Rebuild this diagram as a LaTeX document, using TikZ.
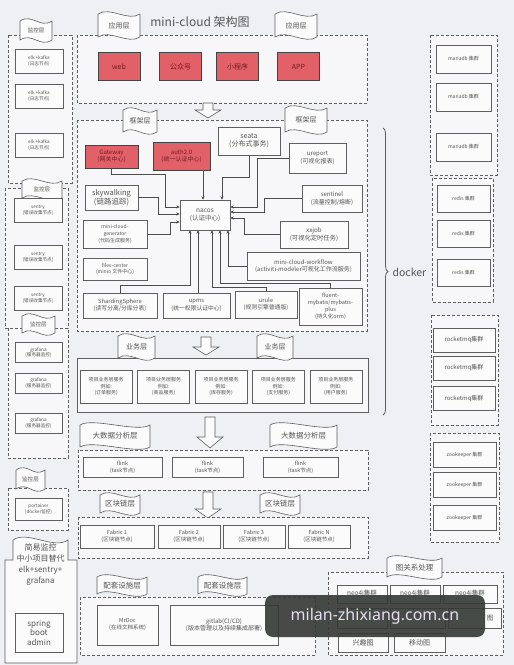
\documentclass[tikz,border=0pt]{standalone}
\usepackage{fontspec}
\setmainfont{Noto Sans CJK SC}
\newfontfamily\wmfont{Noto Sans}
\usepackage{tikz}
\usetikzlibrary{arrows.meta, calc, decorations.pathreplacing}

\definecolor{bgcol}{RGB}{239,240,244}
\definecolor{zonecol}{RGB}{247,246,248}
\definecolor{boxcol}{RGB}{251,251,251}
\definecolor{linecol}{RGB}{95,95,95}
\definecolor{txtcol}{RGB}{85,85,85}
\definecolor{appred}{RGB}{226,96,104}
\definecolor{appdark}{RGB}{115,28,34}
\definecolor{wmbg}{RGB}{52,56,52}
\definecolor{wmtxt}{RGB}{232,222,240}

% wavy layer label: [style]{name}{x1}{y1}{x2}{y2}{text}
\newcommand{\layertag}[7][]{%
  \draw[tagline] (#3,#4) .. controls +(12,-8) and +(-12,8) .. (#5,#4)
    -- (#5,#6) .. controls +(-12,8) and +(12,-8) .. (#3,#6) -- cycle;
  \node[tagtext,#1] (#2) at ({(#3+#5)/2},{(#4+#6)/2}) {#7};
}
% hollow down arrow: {x}{ytop}{ybottom}{head}
\newcommand{\flowarrow}[4]{%
  \draw[flowarr] (#1-5,#2) -- (#1+5,#2) -- (#1+5,#3-#4) -- (#1+13,#3-#4)
    -- (#1,#3) -- (#1-13,#3-#4) -- (#1-5,#3-#4) -- cycle;
}

\begin{document}
\begin{tikzpicture}[x=1pt, y=-1pt,
  zone/.style={draw=linecol, fill=zonecol, line width=0.8pt, dash pattern=on 3pt off 2pt},
  solidzone/.style={draw=linecol, fill=zonecol, line width=0.7pt},
  box/.style={draw=linecol, fill=boxcol, line width=0.6pt, align=center, inner sep=1pt,
    text=txtcol, font=\fontsize{4.6}{5.8}\selectfont},
  fwbox/.style={box, font=\fontsize{6.3}{7.6}\selectfont},
  redbox/.style={box, fill=appred, draw=linecol!70!black, text=appdark, font=\fontsize{7}{8.4}\selectfont},
  tagline/.style={draw=linecol, fill=boxcol, line width=0.6pt},
  tagtext/.style={text=txtcol, font=\fontsize{7}{8}\selectfont, inner sep=0pt},
  conn/.style={draw=black!70, line width=0.6pt, -{Stealth[length=3.2pt, width=3pt]}},
  flowarr/.style={draw=linecol, fill=boxcol, line width=0.6pt},
]
\useasboundingbox (0,0) rectangle (514,665);
\fill[bgcol] (0,0) rectangle (514,665);

% monitoring column
\draw[zone] (8,35) rectangle (72,183);
\draw[zone] (5,188) rectangle (68,328);
\draw[zone] (8,328) rectangle (68,458);
\draw[zone] (8,488) rectangle (68,530);
\layertag[font=\fontsize{5.5}{6}\selectfont]{tagmona}{20}{21}{52}{40}{监控层}
\layertag[font=\fontsize{5.5}{6}\selectfont]{tagmonb}{22}{181}{62}{198}{监控层}
\layertag[font=\fontsize{5.5}{6}\selectfont]{tagmonc}{22}{316}{55}{333}{监控层}
\layertag[font=\fontsize{5.5}{6}\selectfont]{tagmond}{16}{470}{45}{489}{监控层}
\foreach \y/\n in {61/elka, 96/elkb, 145/elkc}
  \node[box, minimum width=48, minimum height=24] (\n) at (39,\y) {elk +kafka\\(日志节点)};
\foreach \y/\n in {210/sentrya, 257.5/sentryb, 298.5/sentryc}
  \node[box, minimum width=48, minimum height=24] (\n) at (38,\y) {sentry\\(错误收集节点)};
\foreach \y/\n in {352.5/grafanaa, 383/grafanab, 423/grafanac}
  \node[box, minimum width=47, minimum height=20] (\n) at (38.5,\y) {grafana\\(服务器监控)};
\node[box, minimum width=47, minimum height=22] (portainer) at (38.5,509) {portainer\\(docker监控)};
\draw[tagline] (13,540) .. controls +(14,-10) and +(-14,10) .. (68,540) -- (68,560) -- (77,560)
  -- (77,663) -- (5,663) -- (5,560) -- (13,560) -- cycle;
\node[text=txtcol, font=\fontsize{8}{11}\selectfont, align=center] (simplemon) at (40.5,565)
  {简易监控\\中小项目替代\\elk+sentry+\\grafana};
\node[box, font=\fontsize{8}{9.5}\selectfont, minimum width=48, minimum height=39] (sba) at (39,632.5)
  {spring\\boot\\admin};

% application layer
\draw[zone] (77,35) rectangle (367,103);
\layertag{tagappa}{98}{14}{140}{37}{应用层}
\layertag{tagappb}{275}{14}{317}{37}{应用层}
\node[text=txtcol, font=\fontsize{12}{14}\selectfont] (title) at (200,22) {mini-cloud 架构图};
\foreach \x/\n/\t in {119/web/web, 180.5/gzh/公众号, 237.5/mini/小程序, 298.5/app/APP}
  \node[redbox, minimum width=42, minimum height=28] (\n) at (\x,66.5) {\t};
\flowarrow{208}{103}{118}{8}

% framework layer
\draw[zone] (77,120) rectangle (367,331);
\layertag{tagfwa}{123}{110}{157}{132}{框架层}
\layertag{tagfwb}{285}{108}{327}{132}{框架层}
\node[redbox, font=\fontsize{6}{7.4}\selectfont, minimum width=53, minimum height=23] (gateway) at (111.5,156.5) {Gateway\\(网关中心)};
\node[redbox, font=\fontsize{6}{7.4}\selectfont, minimum width=57, minimum height=28] (auth) at (181.5,156) {auth2.0\\(统一认证中心)};
\node[fwbox, font=\fontsize{7}{8.4}\selectfont, minimum width=62, minimum height=28] (seata) at (249,141) {seata\\(分布式事务)};
\node[fwbox, font=\fontsize{6}{7.4}\selectfont, minimum width=57, minimum height=30] (ureport) at (317.5,158) {ureport\\(可视化报表)};
\node[fwbox, font=\fontsize{7.5}{9}\selectfont, minimum width=53, minimum height=25] (sky) at (111.5,197.5) {skywalking\\(链路追踪)};
\node[fwbox, font=\fontsize{6}{7.4}\selectfont, minimum width=60, minimum height=27] (sentinel) at (332,198.5) {sentinel\\(流量控制/熔断)};
\node[fwbox, font=\fontsize{6.5}{8}\selectfont, minimum width=50, minimum height=30] (nacos) at (205,215) {nacos\\(认证中心)};
\node[fwbox, font=\fontsize{5}{6.6}\selectfont, minimum width=64, minimum height=28] (gen) at (115,234) {mini-cloud-\\generator\\(代码生成服务)};
\node[fwbox, font=\fontsize{6.3}{7.6}\selectfont, minimum width=68, minimum height=27] (xxjob) at (314,234.5) {xxjob\\(可视化定时任务)};
\node[fwbox, font=\fontsize{5}{6.4}\selectfont, minimum width=64, minimum height=22] (files) at (115,269) {files-center\\(minio 文件中心)};
\node[fwbox, font=\fontsize{6}{7.4}\selectfont, minimum width=113, minimum height=28] (workflow) at (303.5,266) {mini-cloud-workflow\\(activiti-modeler可视化工作流服务)};
\node[fwbox, font=\fontsize{5.8}{7.2}\selectfont, minimum width=74, minimum height=25] (sharding) at (120,305.5) {ShardingSphere\\(读写分离/分库分表)};
\node[fwbox, font=\fontsize{5.8}{7.2}\selectfont, minimum width=67, minimum height=25] (upms) at (196.5,305.5) {upms\\(统一权限认证中心)};
\node[fwbox, font=\fontsize{5.8}{7.2}\selectfont, minimum width=62, minimum height=27] (urule) at (266,304.5) {urule\\(规则引擎普通版)};
\node[fwbox, font=\fontsize{5.5}{6.8}\selectfont, minimum width=63, minimum height=37] (fluent) at (330.5,306.5) {fluent-\\mybatis/mybatis-\\plus\\(持久化orm)};

\coordinate (nt1) at ($(nacos.north)+(-2,0)$);
\coordinate (nt2) at ($(nacos.north)+(17,0)$);
\coordinate (nl1) at ($(nacos.west)+(0,-8)$);
\coordinate (nl2) at ($(nacos.west)+(0,-1)$);
\coordinate (nl3) at ($(nacos.west)+(0,7)$);
\coordinate (nr1) at ($(nacos.east)+(0,-8)$);
\coordinate (nr2) at ($(nacos.east)+(0,-3)$);
\coordinate (nr3) at ($(nacos.east)+(0,3)$);
\coordinate (nb1) at ($(nacos.south)+(-15,0)$);
\coordinate (nb2) at ($(nacos.south)+(-7,0)$);
\coordinate (nb3) at ($(nacos.south)+(7,0)$);
\coordinate (nb4) at ($(nacos.south)+(15,0)$);
\coordinate (nb5) at ($(nacos.south)+(23,0)$);
\draw[conn] (gateway.south) |- (165,174) |- (nl1);
\draw[conn] (sky.east) -- ++(20,0) |- (nl2);
\draw[conn] (gen.east) -- ++(23,0) |- (nl3);
\draw[conn] (auth.south -| nt1) -- (nt1);
\draw[conn] (seata.south) |- ($(nt2)+(0,-22)$) -- (nt2);
\draw[conn] (ureport.west) -- ++(-31,0) |- (nr1);
\draw[conn] (sentinel.west) -- ++(-37,0) |- (nr2);
\draw[conn] (xxjob.west) -- ++(-35,0) |- (nr3);
\draw[conn] (workflow.west) -| (nb5);
\draw[conn] (fluent.north) |- ($(nb4)+(0,53)$) -- (nb4);
\draw[conn] (urule.north) |- ($(nb3)+(0,57)$) -- (nb3);
\draw[conn] (sharding.north) |- ($(nb1)+(0,55)$) -- (nb1);
\draw[conn] (upms.north -| nb2) -- (nb2);

% docker brace
\draw[linecol, line width=0.8pt, decorate, decoration={brace, amplitude=5pt}] (383,128) -- (383,415);
\node[text=txtcol, font=\fontsize{10.5}{12}\selectfont, anchor=west] (dockerlbl) at (389,272) {docker};

% business layer
\flowarrow{206}{337}{355}{8}
\draw[solidzone] (77,358) rectangle (368,412);
\layertag{tagbiza}{118}{336}{155}{358}{业务层}
\layertag{tagbizb}{257}{336}{293}{358}{业务层}
\foreach \i/\s in {1/订单服务, 2/商品服务, 3/库存服务, 4/支付服务, 5/用户服务}
  \node[box, font=\fontsize{5}{6.5}\selectfont, minimum width=52, minimum height=33] (biz\i) at ({106.2+(\i-1)*57.4},386.5)
    {项目业务层服务\\例如:\\(\s)};

% big data layer
\flowarrow{210}{417}{448}{11}
\draw[zone] (78,450) rectangle (368,490);
\layertag[font=\fontsize{7.5}{8}\selectfont]{tagbda}{80}{425}{150}{447}{大数据分析层}
\layertag[font=\fontsize{7.5}{8}\selectfont]{tagbdb}{270}{425}{337}{447}{大数据分析层}
\foreach \x/\w/\n in {122.5/79/flinka, 207.5/71/flinkb, 300.5/75/flinkc}
  \node[box, font=\fontsize{5.5}{7}\selectfont, minimum width=\w, minimum height=20] (\n) at (\x,467) {flink\\(task节点)};

% blockchain layer
\flowarrow{208}{492}{518}{9}
\draw[zone] (78,517) rectangle (368,558);
\layertag[font=\fontsize{7.5}{8}\selectfont]{tagbca}{100}{495}{140}{513}{区块链层}
\layertag[font=\fontsize{7.5}{8}\selectfont]{tagbcb}{260}{495}{300}{513}{区块链层}
\foreach \x/\w/\n/\t in {117/74/fabrica/1, 189/62/fabricb/2, 254/62/fabricc/3, 319/62/fabricd/N}
  \node[box, font=\fontsize{5.5}{7}\selectfont, minimum width=\w, minimum height=23] (\n) at (\x,536.5) {Fabric \t\\(区块链节点)};

% supporting facilities
\draw[zone] (80,597) rectangle (315,655);
\layertag[font=\fontsize{7.5}{8}\selectfont]{tagsupa}{97}{577}{147}{594}{配套设施层}
\layertag[font=\fontsize{7.5}{8}\selectfont]{tagsupb}{198}{577}{247}{594}{配套设施层}
\node[box, font=\fontsize{5.5}{7}\selectfont, minimum width=61, minimum height=40] (mrdoc) at (127.5,625) {MrDoc\\(在线文档系统)};
\node[box, font=\fontsize{6}{7.5}\selectfont, minimum width=108, minimum height=40] (gitlab) at (224,625) {gitlab(CI/CD)\\(版本管理以及持续集成部署)};

% graph processing
\draw[zone] (328,572) rectangle (503,655);
\layertag[font=\fontsize{7.5}{8}\selectfont]{taggraph}{387}{558}{442}{577}{图关系处理}
\foreach \x/\w/\n in {362/50/neoa, 415/50/neob, 470/54/neoc}
  \node[box, font=\fontsize{6.5}{8}\selectfont, minimum width=\w, minimum height=18] (\n) at (\x,594) {neo4j集群};
\node[box, minimum width=50, minimum height=20] (grapha) at (362,618) {};
\node[box, minimum width=55, minimum height=20] (graphb) at (417.5,618) {};
\node[box, minimum width=53, minimum height=20] (graphc) at (474.5,618) {};
\node[text=txtcol, font=\fontsize{6.5}{8}\selectfont] (graphclbl) at (490,618) {图};
\node[box, font=\fontsize{7}{8}\selectfont, minimum width=50, minimum height=19] (interest) at (363,642.5) {兴趣图};
\node[box, font=\fontsize{7}{8}\selectfont, minimum width=51, minimum height=19] (mobile) at (419.5,642.5) {移动图};

% storage column
\draw[zone] (430,35) rectangle (497,175);
\foreach \y/\n in {59/mariaa, 97/mariab, 147/mariac}
  \node[box, font=\fontsize{5}{6}\selectfont, minimum width=55, minimum height=28] (\n) at (463.5,\y) {mariadb 集群};
\draw[zone] (432,178) rectangle (493,302);
\foreach \y/\n in {198.5/redisa, 234/redisb, 272.5/redisc}
  \node[box, font=\fontsize{5}{6}\selectfont, minimum width=53, minimum height=27] (\n) at (463.5,\y) {redis 集群};
\draw[zone] (431,315) rectangle (498,425);
\foreach \y/\n in {340/rocketa, 368/rocketb, 398.5/rocketc}
  \node[box, font=\fontsize{6}{7}\selectfont, minimum width=62, minimum height=24] (\n) at (464,\y) {rocketmq集群};
\draw[zone] (430,433) rectangle (499,542);
\foreach \y/\n in {454.5/zooa, 485/zoob, 518/zooc}
  \node[box, font=\fontsize{5}{6}\selectfont, minimum width=63, minimum height=25] (\n) at (464.5,\y) {zookeeper 集群};

% watermark
\node[fill=wmbg, fill opacity=0.9, text opacity=1, text=wmtxt, rounded corners=8pt,
  minimum width=220, minimum height=42, font=\wmfont\fontsize{16}{18}\selectfont] (watermark) at (375,616) {milan-zhixiang.com.cn};
\end{tikzpicture}
\end{document}
